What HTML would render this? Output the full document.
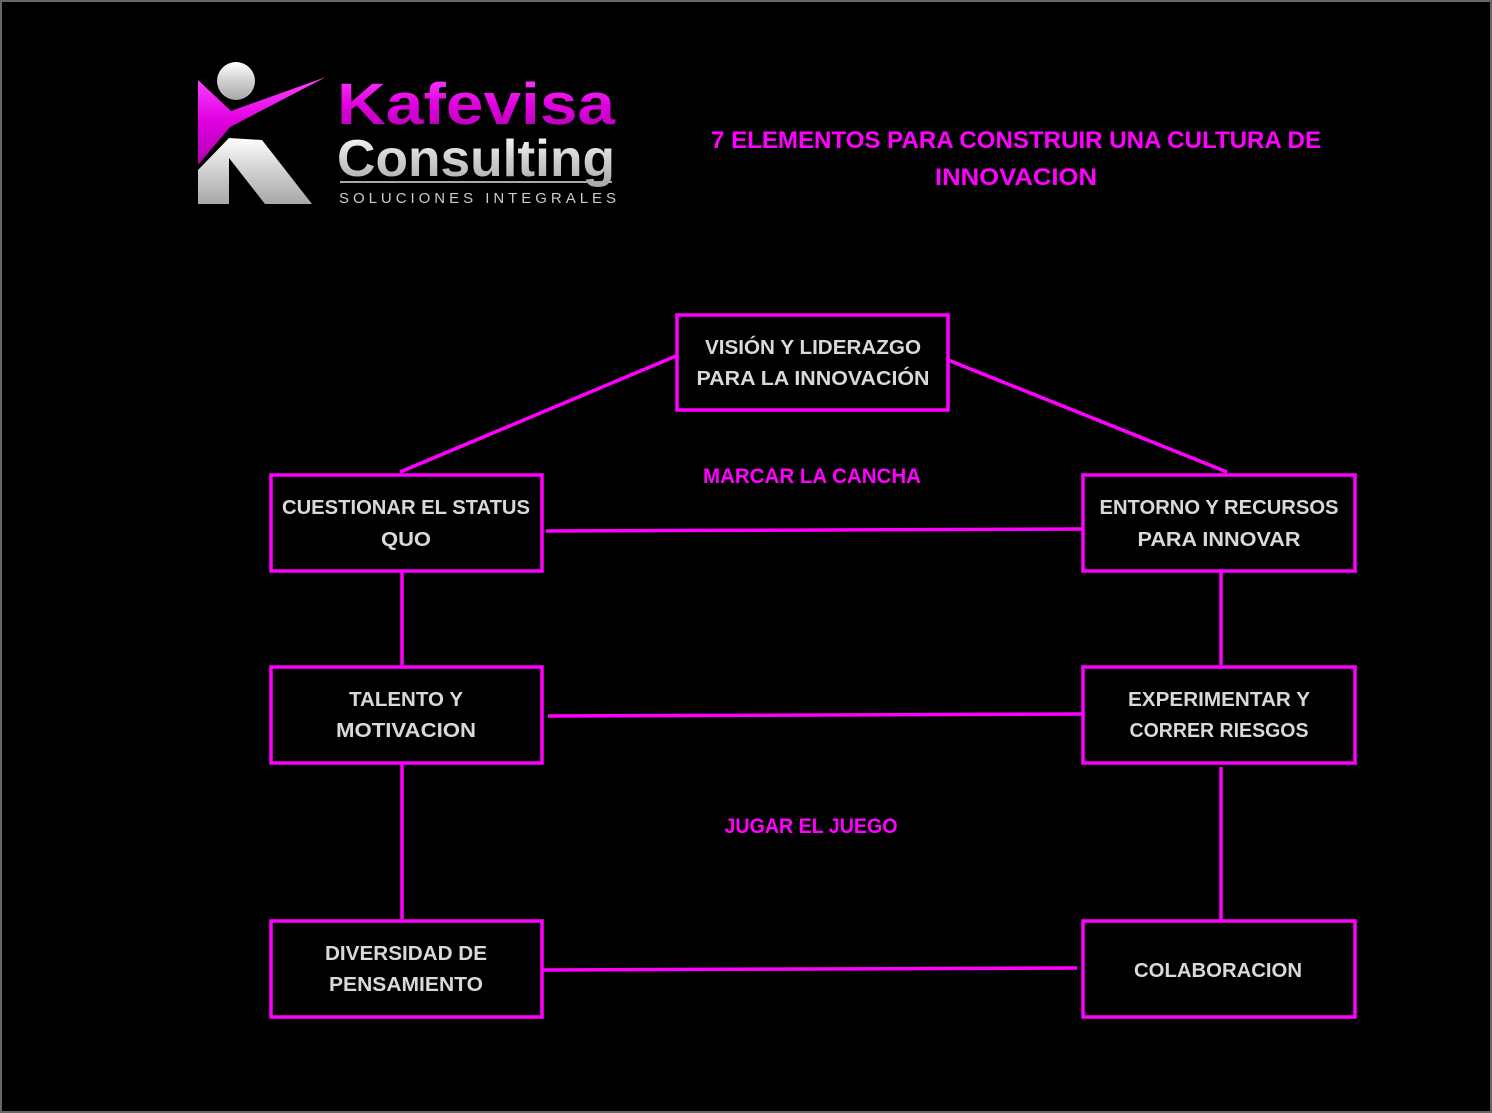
<!DOCTYPE html>
<html><head><meta charset="utf-8"><style>
html,body{margin:0;padding:0;background:#000;}
svg{display:block;}
text{font-family:"Liberation Sans",sans-serif;font-weight:bold;}
</style></head><body>
<svg width="1492" height="1113" viewBox="0 0 1492 1113" xmlns="http://www.w3.org/2000/svg">
<defs>
<linearGradient id="pk" x1="0" y1="0" x2="0" y2="1"><stop offset="0" stop-color="#ff44ff"/><stop offset="0.5" stop-color="#e000e0"/><stop offset="1" stop-color="#b000b0"/></linearGradient>
<linearGradient id="gr" x1="0" y1="0" x2="0" y2="1"><stop offset="0" stop-color="#ffffff"/><stop offset="0.5" stop-color="#d0d0d0"/><stop offset="1" stop-color="#a8a8a8"/></linearGradient>
</defs>
<rect x="0" y="0" width="1492" height="1113" fill="#000"/>
<rect x="1" y="1" width="1490" height="1111" fill="none" stroke="#666" stroke-width="2"/>
<!-- logo -->
<circle cx="236" cy="81" r="19" fill="url(#gr)"/>
<polygon points="198,80 231,111 326,77 230,127 198,165" fill="url(#pk)"/>
<polygon points="198,170 229,138 262,140 312,204 265,204 229,158 229,204 198,204" fill="url(#gr)"/>
<text x="337" y="124" font-size="58" fill="url(#pk)" textLength="278" lengthAdjust="spacingAndGlyphs">Kafevisa</text>
<text x="337" y="176" font-size="52" fill="url(#gr)" textLength="278" lengthAdjust="spacingAndGlyphs">Consulting</text>
<rect x="340" y="181" width="272" height="2" fill="#aaa"/>
<text x="339" y="203" font-size="15" fill="#ccc" font-weight="normal" textLength="277" lengthAdjust="spacing" style="font-weight:normal">SOLUCIONES INTEGRALES</text>
<!-- title -->
<g fill="#ff00ff" font-size="24" text-anchor="middle">
<text x="1016" y="148" textLength="610" lengthAdjust="spacingAndGlyphs">7 ELEMENTOS PARA CONSTRUIR UNA CULTURA DE</text>
<text x="1016" y="185" textLength="162" lengthAdjust="spacingAndGlyphs">INNOVACION</text>
<text x="812" y="483" font-size="21" textLength="218" lengthAdjust="spacingAndGlyphs">MARCAR LA CANCHA</text>
<text x="811" y="833" font-size="21" textLength="173" lengthAdjust="spacingAndGlyphs">JUGAR EL JUEGO</text>
</g>
<!-- connectors -->
<g stroke="#ff00ff" stroke-width="3.5" fill="none">
<line x1="676" y1="356" x2="400" y2="472"/>
<line x1="948" y1="360" x2="1227" y2="472"/>
<line x1="546" y1="531" x2="1082" y2="529"/>
<line x1="402" y1="571" x2="402" y2="665"/>
<line x1="1221" y1="571" x2="1221" y2="665"/>
<line x1="548" y1="716" x2="1082" y2="714"/>
<line x1="402" y1="763" x2="402" y2="919"/>
<line x1="1221" y1="767" x2="1221" y2="925"/>
<line x1="542" y1="970" x2="1077" y2="968"/>
</g>
<!-- boxes -->
<g stroke="#ff00ff" stroke-width="3.5" fill="#000">
<rect x="677" y="315" width="271" height="95"/>
<rect x="271" y="475" width="271" height="96"/>
<rect x="1083" y="475" width="272" height="96"/>
<rect x="271" y="667" width="271" height="96"/>
<rect x="1083" y="667" width="272" height="96"/>
<rect x="271" y="921" width="271" height="96"/>
<rect x="1083" y="921" width="272" height="96"/>
</g>
<g fill="#d9d9d9" font-size="20" text-anchor="middle">
<text x="813" y="354" textLength="216" lengthAdjust="spacingAndGlyphs">VISIÓN Y LIDERAZGO</text>
<text x="813" y="385" textLength="233" lengthAdjust="spacingAndGlyphs">PARA LA INNOVACIÓN</text>
<text x="406" y="514" textLength="248" lengthAdjust="spacingAndGlyphs">CUESTIONAR EL STATUS</text>
<text x="406" y="546" textLength="50" lengthAdjust="spacingAndGlyphs">QUO</text>
<text x="1219" y="514" textLength="239" lengthAdjust="spacingAndGlyphs">ENTORNO Y RECURSOS</text>
<text x="1219" y="546" textLength="163" lengthAdjust="spacingAndGlyphs">PARA INNOVAR</text>
<text x="406" y="706" textLength="114" lengthAdjust="spacingAndGlyphs">TALENTO Y</text>
<text x="406" y="737" textLength="140" lengthAdjust="spacingAndGlyphs">MOTIVACION</text>
<text x="1219" y="706" textLength="182" lengthAdjust="spacingAndGlyphs">EXPERIMENTAR Y</text>
<text x="1219" y="737" textLength="179" lengthAdjust="spacingAndGlyphs">CORRER RIESGOS</text>
<text x="406" y="960" textLength="162" lengthAdjust="spacingAndGlyphs">DIVERSIDAD DE</text>
<text x="406" y="991" textLength="154" lengthAdjust="spacingAndGlyphs">PENSAMIENTO</text>
<text x="1218" y="977" textLength="168" lengthAdjust="spacingAndGlyphs">COLABORACION</text>
</g>
</svg>
</body></html>
